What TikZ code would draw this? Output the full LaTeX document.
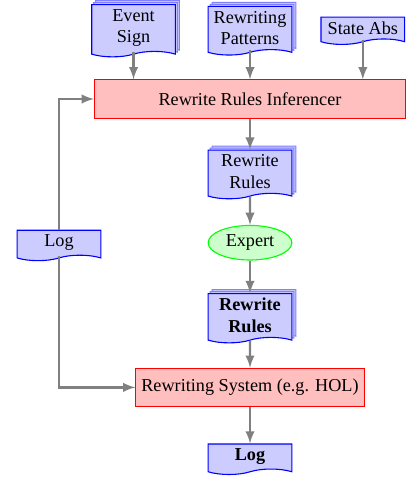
\documentclass[tikz,border=0pt]{standalone}
\usepackage{fontspec}
\setmainfont{Liberation Serif}
\usetikzlibrary{arrows,shapes,shadows,calc,positioning}

\begin{document}
\begin{tikzpicture}
\tikzstyle{doc}=[tape, tape bend top=none, tape bend height=3pt, draw=blue, semithick, fill=blue!20, align=center, minimum width=46pt, inner sep=2.5pt]
\tikzstyle{docs}=[doc, copy shadow={shadow xshift=2.2pt, shadow yshift=2.2pt, draw=blue!50, fill=blue!20}, copy shadow={shadow xshift=1.1pt, shadow yshift=1.1pt, draw=blue!50, fill=blue!20}]
\tikzstyle{proc}=[rectangle, draw=red, semithick, fill=red!25, minimum height=21pt, inner sep=3pt]
\tikzstyle{human}=[ellipse, draw=green, semithick, fill=green!20, minimum width=46pt, minimum height=19pt, inner sep=1pt]
\tikzstyle{connect}=[-latex, gray, line width=1.3pt]

  \useasboundingbox (-137.4pt,15.4pt) rectangle (86.3pt,-248.4pt);

  \node[docs] (patt)                                        {Rewriting\\Patterns};
  \node[docs] (sign)   [node distance=64pt, left of =patt]  {Event\\Sign};
  \node[doc]  (abs)    [node distance=62pt, right of =patt] {State Abs};
  \node[proc, minimum width=171pt] (infer) [node distance=39pt, below of =patt] {Rewrite Rules Inferencer};
  \node[docs] (rules)  [node distance=40pt, below of =infer] {Rewrite\\Rules};
  \node[human] (expert) [node distance=39pt, below of =rules] {Expert};
  \node[doc]  (log)    [node distance=105pt, left of =expert] {Log};
  \node[docs, font=\bfseries] (rules2) [node distance=40pt, below of =expert] {Rewrite\\Rules};
  \node[proc] (hol)    [node distance=39.5pt, below of =rules2] {Rewriting System (e.g. HOL)};
  \node[doc, font=\bfseries] (log2) [node distance=38pt, below of =hol] {Log};

  \draw[connect] (sign.south) -- (sign.south |- infer.north);
  \draw[connect] (patt.south) -- (patt.south |- infer.north);
  \draw[connect] (abs.south)  -- (abs.south |- infer.north);

  \path (infer)  edge [connect] (rules)
        (rules)  edge [connect] (expert)
        (expert) edge [connect] (rules2)
        (rules2) edge [connect] (hol)
        (hol)    edge [connect] (log2);

  \draw[connect] (log.north) |- (infer.west);
  \draw[connect] (log.south) |- (hol.west);

\end{tikzpicture}
\end{document}
